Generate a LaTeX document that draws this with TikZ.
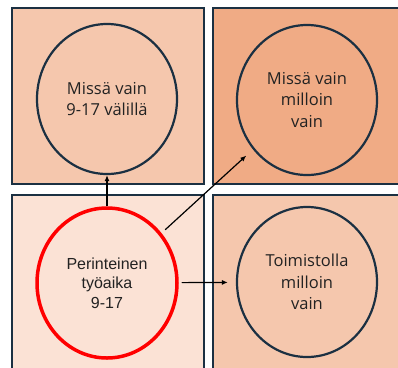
\documentclass[tikz,border=0pt]{standalone}
\usepackage{fontspec}
\setmainfont{Open Sans}
\newfontfamily\arialfont{Liberation Sans}
\usetikzlibrary{shapes.geometric,arrows.meta}
\definecolor{navy}{HTML}{1B3042}
\definecolor{peach}{HTML}{F5C7AD}
\definecolor{apricot}{HTML}{F0AB85}
\definecolor{blush}{HTML}{FBE2D5}
\definecolor{ink}{HTML}{222222}
\begin{document}
\begin{tikzpicture}[x=1pt,y=-1pt,
        quad/.style={draw=navy,line width=1.3pt},
        spot/.style={ellipse,draw=navy,line width=2.2pt,minimum width=140pt,minimum height=150pt,
            inner sep=0pt,align=center,text=ink,font=\fontsize{16.5}{21.5}\selectfont},
        link/.style={-{Latex[length=6pt,width=5pt]},line width=1.2pt}]
    \useasboundingbox (0,0) rectangle (398,367);
    \begin{scope}
        \clip (0,0) rectangle (398,367);
        \filldraw[quad,fill=peach] (12,8) rectangle (204,184);
        \filldraw[quad,fill=apricot] (213,8) rectangle (402,184);
        \filldraw[quad,fill=blush] (12,195) rectangle (204,372);
        \filldraw[quad,fill=peach] (213,195) rectangle (402,372);
    \end{scope}
    \node[spot] (anywhere) at (107,99) {Missä vain\\9-17 välillä};
    \node[spot] (anytime) at (307,100) {Missä vain\\milloin\\vain};
    \node[spot,draw=red,line width=3.5pt,font=\arialfont\fontsize{16}{19.5}\selectfont] (trad) at (107,283)
        {Perinteinen\\työaika\\9-17};
    \node[spot] (office) at (307,282) {Toimistolla\\milloin\\vain};
    \draw[link] (trad) -- (anywhere);
    \draw[link,shorten <=5pt,shorten >=9pt] (trad) -- (anytime);
    \draw[link,shorten <=3pt,shorten >=8pt] (trad) -- (office);
\end{tikzpicture}
\end{document}
